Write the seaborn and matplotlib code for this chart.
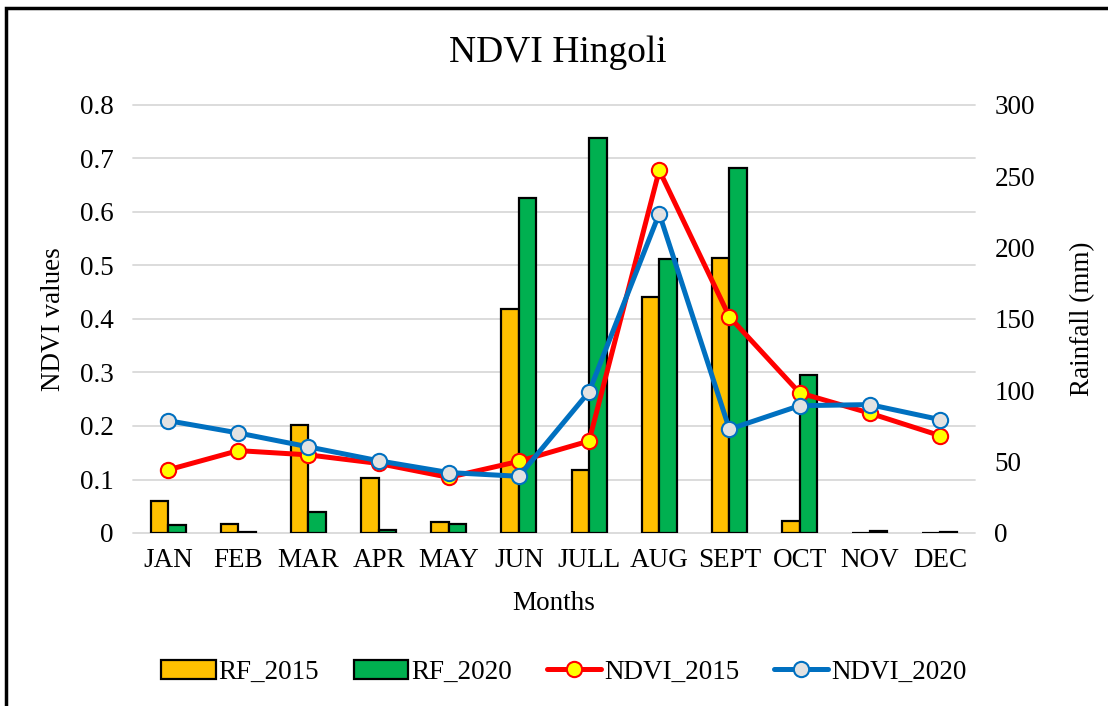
import numpy as np
import pandas as pd
import matplotlib
matplotlib.use("Agg")
import matplotlib.pyplot as plt
from matplotlib.ticker import MultipleLocator, FuncFormatter
from matplotlib.patches import Rectangle
import seaborn as sns

# data
months = ["JAN", "FEB", "MAR", "APR", "MAY", "JUN", "JULL", "AUG", "SEPT", "OCT", "NOV", "DEC"]
rf_2015 = [22.4, 6.5, 75.9, 38.8, 7.9, 157.0, 44.0, 165.6, 193.0, 8.2, 0.0, 0.0]
rf_2020 = [5.6, 0.5, 14.5, 1.9, 6.5, 235.0, 276.8, 191.9, 256.0, 110.5, 1.5, 1.0]
ndvi_2015 = [0.118, 0.154, 0.146, 0.130, 0.104, 0.134, 0.172, 0.678, 0.404, 0.262, 0.224, 0.182]
ndvi_2020 = [0.210, 0.187, 0.161, 0.135, 0.113, 0.106, 0.264, 0.597, 0.194, 0.238, 0.240, 0.212]
ndvi_ticks = [0, 0.1, 0.2, 0.3, 0.4, 0.5, 0.6, 0.7, 0.8]
rf_ticks = [0, 50, 100, 150, 200, 250, 300]

FS = 19.5

sns.set_style("white")
plt.rcParams["font.family"] = ["Liberation Serif", "DejaVu Serif"]
for k in ["text.color", "axes.labelcolor", "xtick.color", "ytick.color"]:
    plt.rcParams[k] = "black"

rf = pd.DataFrame({
    "Month": months * 2,
    "Rainfall": rf_2015 + rf_2020,
    "Series": ["RF_2015"] * len(months) + ["RF_2020"] * len(months),
})

fig = plt.figure(figsize=(11.08, 7.06), dpi=100)
ax_bar = fig.add_axes([133 / 1108, 1 - 533 / 706, 842 / 1108, 428 / 706])

#bars (rainfall, right axis)
sns.barplot(data=rf, x="Month", y="Rainfall", hue="Series", order=months,
            palette=["#FFC000", "#00B050"], saturation=1, width=0.5,
            edgecolor="black", linewidth=1.6, legend=False, ax=ax_bar)
ax_line = ax_bar.twinx()

ax_bar.set_xlim(-0.5, len(months) - 0.5)
ax_bar.set_ylim(0, 300)
ax_bar.set_yticks(rf_ticks)
# gridlines follow the ndvi steps (0.1 = 37.5 mm), behind the bars
ax_bar.yaxis.set_minor_locator(MultipleLocator(37.5))
ax_bar.yaxis.remove_overlapping_locs = False
ax_bar.grid(False)
ax_bar.grid(which="minor", axis="y", color="#D9D9D9", lw=1.3)
for t in ax_bar.yaxis.get_minor_ticks():
    t.gridline.set_clip_on(False)
ax_bar.set_axisbelow(True)
ax_bar.yaxis.tick_right()
ax_bar.yaxis.set_label_position("right")
ax_bar.set_ylabel("Rainfall (mm)", fontsize=FS)
ax_bar.yaxis.set_label_coords(1.113, 0.5)
ax_bar.set_xlabel("Months", fontsize=FS)
ax_bar.xaxis.set_label_coords(0.5, -0.135)
ax_bar.tick_params(which="both", length=0, labelsize=FS)
ax_bar.tick_params(axis="y", pad=14)
ax_bar.tick_params(axis="x", pad=11)
for s in ax_bar.spines.values():
    s.set_visible(False)

#lines (ndvi, left axis)
x_pos = np.arange(len(months))
sns.lineplot(x=x_pos, y=ndvi_2015, color="#FF0000", lw=3.6, marker="o",
             markersize=11, markerfacecolor="#FFFF00", markeredgecolor="#FF0000",
             markeredgewidth=1.5, label="NDVI_2015", legend=False, ax=ax_line)
sns.lineplot(x=x_pos, y=ndvi_2020, color="#0070C0", lw=3.6, marker="o",
             markersize=11, markerfacecolor="#E2E2E2", markeredgecolor="#0070C0",
             markeredgewidth=1.5, label="NDVI_2020", legend=False, ax=ax_line)
ax_line.set_xlim(-0.5, len(months) - 0.5)
ax_line.set_ylim(0, 0.8)
ax_line.set_yticks(ndvi_ticks)
ax_line.yaxis.set_major_formatter(FuncFormatter(lambda v, p: "0" if v == 0 else f"{v:.1f}"))
ax_line.yaxis.tick_left()
ax_line.yaxis.set_label_position("left")
ax_line.set_ylabel("NDVI values", fontsize=FS)
ax_line.yaxis.set_label_coords(-0.08, 0.5)
ax_line.tick_params(length=0, labelsize=FS, pad=14)
ax_line.grid(False)
for s in ax_line.spines.values():
    s.set_visible(False)

fig.text(558 / 1108, 1 - 53 / 706, "NDVI Hingoli", fontsize=27, ha="center", va="center")

handles = [ax_bar.containers[0][0], ax_bar.containers[1][0]] + ax_line.get_lines()[:2]
labels = ["RF_2015", "RF_2020", "NDVI_2015", "NDVI_2020"]
fig.legend(handles, labels, loc="center", bbox_to_anchor=(564 / 1108, 1 - 672 / 706),
           ncol=4, frameon=False, fontsize=FS, handlelength=2.0, handletextpad=0.1,
           columnspacing=1.3)

# outer frame (only left and top edges visible in the reference)
fig.patches.append(Rectangle((6 / 1108, -0.1), 1.2, 1 - 8 / 706 + 0.1,
                             transform=fig.transFigure, fill=False, lw=2.5, ec="black"))

fig.savefig("out.png", dpi=100)
